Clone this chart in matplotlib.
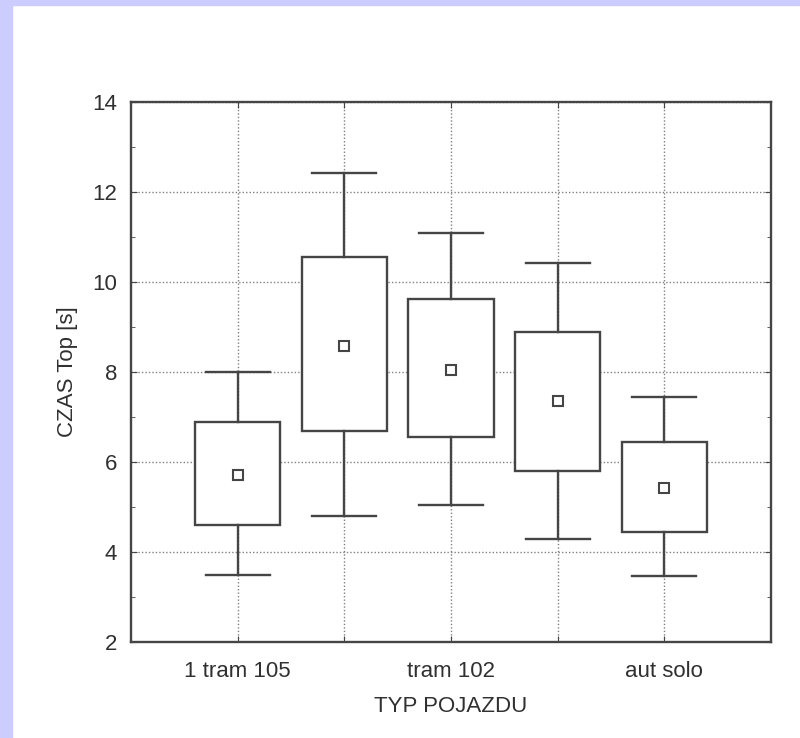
import matplotlib
matplotlib.use("Agg")
import matplotlib.pyplot as plt
from matplotlib.patches import Rectangle
from matplotlib.ticker import MultipleLocator

plt.rcParams['font.family'] = ['Liberation Sans', 'DejaVu Sans']

# Box-whisker summary per vehicle type
categories = ['1 tram 105', 'tram 105', 'tram 102', 'aut przeg', 'aut solo']
tick_labels = ['1 tram 105', '', 'tram 102', '', 'aut solo']
whisker_low = [3.5, 4.8, 5.05, 4.3, 3.47]
q_low = [4.6, 6.7, 6.55, 5.8, 4.45]
means = [5.72, 8.57, 8.05, 7.35, 5.43]
q_high = [6.9, 10.55, 9.63, 8.88, 6.45]
whisker_high = [8.0, 12.43, 11.1, 10.42, 7.45]

W, H = 800, 738
fig = plt.figure(figsize=(W / 100, H / 100), dpi=100)
fig.patch.set_facecolor('white')

# lavender frame on the left and top edges
frame = '#ccccff'
fig.add_artist(Rectangle((0, 0), 12 / W, 1, transform=fig.transFigure, color=frame, zorder=0))
fig.add_artist(Rectangle((0, 1 - 5 / H), 1, 5 / H, transform=fig.transFigure, color=frame, zorder=0))

ax = fig.add_axes([131 / W, 96 / H, 640 / W, 540 / H])
ink = '#454545'
txt = '#303030'
lw = 1.7
fs = 16

xs = list(range(1, len(categories) + 1))
box_w = 0.8
cap_w = 0.6
for x, wl, ql, m, qh, wh in zip(xs, whisker_low, q_low, means, q_high, whisker_high):
    ax.add_patch(Rectangle((x - box_w / 2, ql), box_w, qh - ql, facecolor='white',
                           edgecolor=ink, lw=lw, zorder=3))
    ax.plot([x, x], [qh, wh], color=ink, lw=lw, zorder=3)
    ax.plot([x, x], [wl, ql], color=ink, lw=lw, zorder=3)
    ax.plot([x - cap_w / 2, x + cap_w / 2], [wh, wh], color=ink, lw=lw, zorder=3)
    ax.plot([x - cap_w / 2, x + cap_w / 2], [wl, wl], color=ink, lw=lw, zorder=3)
    ax.plot([x], [m], marker='s', ms=7.5, mfc='white', mec=ink, mew=1.5, zorder=4)

ax.set_xlim(0, len(categories) + 1)
ax.set_ylim(2, 14)
ax.set_xticks(xs)
ax.set_xticklabels(tick_labels)
ax.yaxis.set_major_locator(MultipleLocator(2))
ax.yaxis.set_minor_locator(MultipleLocator(1))

ax.grid(True, which='major', color='#808080', ls=(0, (1, 1.5)), lw=1.0, zorder=1)
ax.tick_params(axis='both', which='both', direction='in', top=True, right=True,
               color=ink, labelsize=fs, labelcolor=txt)
ax.tick_params(axis='x', pad=14)
ax.tick_params(axis='y', pad=10)
ax.tick_params(which='major', length=4)
ax.tick_params(which='minor', length=3)
for s in ax.spines.values():
    s.set_color(ink)
    s.set_linewidth(1.7)

ax.set_xlabel('TYP POJAZDU', fontsize=fs, color=txt, labelpad=10)
ax.set_ylabel('CZAS Top [s]', fontsize=fs, color=txt, labelpad=10)

fig.savefig('out.png', dpi=100, facecolor=fig.get_facecolor())
